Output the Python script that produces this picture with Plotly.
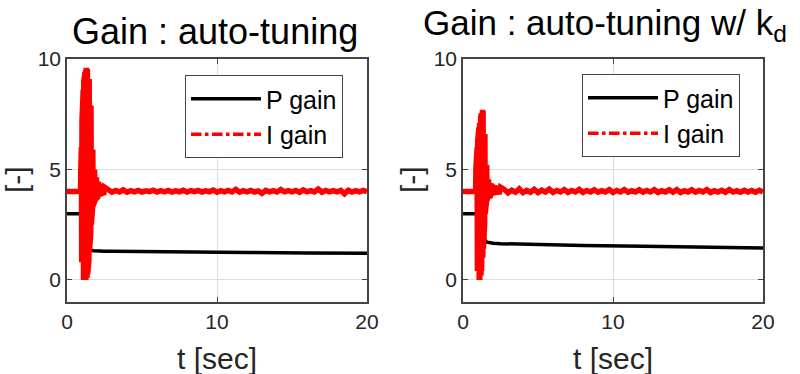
import numpy as np
import plotly.graph_objects as go

# ---------------- data ----------------
# P gain, left (auto-tuning) and right (auto-tuning w/ kd)
p_t = [0, 0.9, 1.0, 1.1, 1.2, 1.3, 1.4, 1.5, 1.6, 1.8, 2.0, 2.5, 3, 5, 8, 12, 16, 20]
p_left = [3.0, 3.0, 2.9, 2.6, 2.2, 1.8, 1.5, 1.38, 1.34, 1.32, 1.31, 1.3, 1.3, 1.28, 1.26, 1.24, 1.22, 1.21]
p_right = [3.0, 3.0, 2.9, 2.7, 2.4, 2.1, 1.85, 1.75, 1.71, 1.68, 1.66, 1.64, 1.63, 1.6, 1.56, 1.52, 1.48, 1.45]

# I gain before the transient
pre_t = [0.0, 0.5]
pre_left = [4.0, 4.0]
pre_right = [4.0, 4.0]

# I gain transient (left)
spike_t_left = [0.90, 0.92, 0.94, 0.96, 0.98, 1.00, 1.02, 1.04, 1.06, 1.08, 1.10, 1.12, 1.14, 1.16,
                1.18, 1.20, 1.22, 1.24, 1.26, 1.28, 1.30, 1.32, 1.34, 1.36, 1.38, 1.40, 1.42, 1.44,
                1.46, 1.48, 1.50, 1.52, 1.54, 1.56, 1.58, 1.60, 1.62, 1.64, 1.66, 1.68, 1.70, 1.72,
                1.74, 1.76, 1.78, 1.80, 1.82, 1.84, 1.86, 1.88, 1.90, 1.92, 1.94, 1.96, 1.98, 2.00,
                2.05, 2.10, 2.15, 2.20, 2.25, 2.30, 2.35, 2.40, 2.45, 2.50]
spike_v_left = [4.0, 5.0, 1.8, 6.0, 0.8, 7.2, 0.3, 8.0, 0.1, 8.6, 0.0, 9.0, 0.0, 9.2,
                0.0, 9.4, 0.0, 9.5, 0.0, 9.6, 0.05, 9.6, 0.1, 9.55, 0.25, 9.5, 0.5, 9.3,
                0.9, 9.1, 1.3, 8.8, 1.7, 8.5, 2.1, 7.9, 2.5, 7.2, 2.9, 6.4, 3.2, 5.9,
                3.35, 5.5, 3.45, 5.1, 3.5, 5.0, 3.58, 4.85, 3.65, 4.75, 3.68, 4.65, 3.7, 4.6,
                3.74, 4.45, 3.77, 4.35, 3.8, 4.3, 3.83, 4.25, 3.85, 4.2]

# I gain transient (right)
spike_t_right = [0.84, 0.86, 0.88, 0.90, 0.92, 0.94, 0.96, 0.98, 1.00, 1.02, 1.04, 1.06, 1.08, 1.10,
                 1.12, 1.14, 1.16, 1.18, 1.20, 1.22, 1.24, 1.26, 1.28, 1.30, 1.32, 1.34, 1.36, 1.38,
                 1.40, 1.42, 1.44, 1.46, 1.48, 1.50, 1.52, 1.54, 1.56, 1.58, 1.60, 1.62, 1.64, 1.66,
                 1.68, 1.70, 1.74, 1.78, 1.82, 1.86, 1.90, 1.95, 2.00, 2.10, 2.20, 2.30, 2.40, 2.50]
spike_v_right = [4.0, 5.0, 2.0, 5.6, 1.0, 6.0, 0.4, 6.3, 0.1, 6.6, 0.0, 6.9, 0.0, 7.1,
                 0.0, 7.3, 0.1, 7.45, 0.2, 7.55, 0.4, 7.65, 0.7, 7.7, 1.0, 7.65, 1.4, 7.4,
                 1.9, 7.0, 2.5, 6.6, 3.0, 6.1, 3.3, 5.6, 3.5, 5.2, 3.6, 4.9, 3.7, 4.7,
                 3.75, 4.55, 3.78, 4.45, 3.8, 4.38, 3.82, 4.32, 3.84, 4.28, 3.86, 4.25, 3.88, 4.2]

# I gain steady-state ripple (sampled every 0.25 s from 2.75 s)
noise_left = [4.06, 3.97, 4.05, 3.98, 4.08, 3.97, 4.04, 3.99, 4.05, 3.98, 4.03, 4.00, 4.06, 3.98,
              4.04, 3.99, 4.05, 3.98, 4.03, 3.99, 4.06, 3.98, 4.04, 4.00, 4.05, 3.98, 4.03, 3.99,
              4.07, 3.97, 4.04, 3.99, 4.05, 3.98, 4.10, 3.97, 4.04, 3.99, 4.05, 3.98, 4.03, 3.92,
              4.05, 3.99, 4.04, 3.98, 4.09, 3.99, 4.04, 3.99, 4.05, 3.96, 4.07, 3.99, 4.04, 3.98,
              4.11, 3.97, 4.05, 3.99, 4.04, 3.99, 4.05, 3.90, 4.06, 3.98, 4.04, 3.99, 4.05, 4.00]
noise_right = [4.10, 3.94, 4.06, 3.97, 4.12, 3.95, 4.05, 3.97, 4.10, 3.95, 4.06, 3.98, 4.11, 3.96,
               4.05, 3.98, 4.09, 3.96, 4.05, 3.98, 4.10, 3.96, 4.05, 3.98, 4.08, 3.97, 4.04, 3.98,
               4.09, 3.96, 4.05, 3.98, 4.09, 3.97, 4.04, 3.98, 4.08, 3.97, 4.05, 3.98, 4.09, 3.96,
               4.04, 3.98, 4.08, 3.97, 4.09, 3.96, 4.04, 3.98, 4.08, 3.97, 4.05, 3.98, 4.09, 3.96,
               4.04, 3.98, 4.06, 3.97, 4.09, 3.98, 4.04, 3.97, 4.06, 3.98, 4.05, 3.97, 4.06, 3.98]
noise_start, noise_step = 2.75, 0.25

titles = ["Gain : auto-tuning", "Gain : auto-tuning w/ k<sub>d</sub>"]
x_label = "t [sec]"
y_label = "[-]"
x_ticks = [0, 10, 20]
y_ticks = [0, 5, 10]

# ---------------- figure ----------------
FONT = "Liberation Sans, Arial, sans-serif"
TXT = "#262626"

def noise_t(vals):
    return list(noise_start + noise_step * np.arange(len(vals)))

fig = go.Figure()
panels = [
    ("x", "y", "legend", p_left, pre_t, pre_left, spike_t_left, spike_v_left, noise_left),
    ("x2", "y2", "legend2", p_right, pre_t, pre_right, spike_t_right, spike_v_right, noise_right),
]
for xa, ya, lg, pv, prt, prv, st, sv, nv in panels:
    fig.add_trace(go.Scatter(x=p_t, y=pv, mode="lines", name="P gain",
                             line=dict(color="black", width=3.5),
                             xaxis=xa, yaxis=ya, legend=lg))
    it = list(prt) + list(st) + noise_t(nv)
    iv = list(prv) + list(sv) + list(nv)
    fig.add_trace(go.Scatter(x=it, y=iv, mode="lines", name="I gain", showlegend=False,
                             line=dict(color="#ff0000", width=5.5),
                             xaxis=xa, yaxis=ya, legend=lg))
    # legend entry for I gain (dash-dot style as in the original key)
    fig.add_trace(go.Scatter(x=[None], y=[None], mode="lines", name="I gain",
                             line=dict(color="#ff0000", width=3.5, dash="dashdot"),
                             xaxis=xa, yaxis=ya, legend=lg))

W, H = 800, 374
x_doms = [(67 / W, 367 / W), (463 / W, 763 / W)]
y_dom = (1 - 302 / H, 1 - 59 / H)

axis_common = dict(showline=True, linecolor="#444444", linewidth=1.5, mirror="ticks",
                   ticks="inside", ticklen=5, tickcolor="#444444", tickwidth=1,
                   showgrid=True, gridcolor="#dedede", gridwidth=1, zeroline=False,
                   automargin=False,
                   tickfont=dict(family=FONT, size=21, color=TXT))

layout = dict(width=W, height=H, autosize=False,
              margin=dict(l=0, r=0, t=0, b=0, pad=0, autoexpand=False),
              paper_bgcolor="white", plot_bgcolor="white",
              font=dict(family=FONT, color=TXT))
for i, (xd) in enumerate(x_doms):
    sx = "" if i == 0 else "2"
    layout["xaxis" + sx] = dict(domain=list(xd), range=[0, 20], tickvals=x_ticks,
                                anchor="y" + sx, **axis_common)
    layout["yaxis" + sx] = dict(domain=list(y_dom), range=[-1, 10], tickvals=y_ticks,
                                anchor="x" + sx, **axis_common)

legend_common = dict(xanchor="left", yanchor="top", bgcolor="white", bordercolor="#444444",
                     borderwidth=1, font=dict(family=FONT, size=25, color="black"),
                     itemwidth=70, tracegroupgap=0)
layout["legend"] = dict(x=185 / W, y=1 - 75 / H, **legend_common)
layout["legend2"] = dict(x=582 / W, y=1 - 74 / H, **legend_common)

ann = []
ann.append(dict(text=titles[0], x=215 / W, y=1 - 54 / H, xref="paper", yref="paper",
                xanchor="center", yanchor="bottom", showarrow=False,
                font=dict(family=FONT, size=36, color="black")))
ann.append(dict(text=titles[1], x=605 / W, y=1 - 49 / H, xref="paper", yref="paper",
                xanchor="center", yanchor="bottom", showarrow=False,
                font=dict(family=FONT, size=35, color="black")))
for cx in (217, 613):
    ann.append(dict(text=x_label, x=cx / W, y=1 - 358 / H, xref="paper", yref="paper",
                    xanchor="center", yanchor="middle", showarrow=False,
                    font=dict(family=FONT, size=30, color=TXT)))
for cx in (17, 412):
    ann.append(dict(text=y_label, x=cx / W, y=1 - 180 / H, xref="paper", yref="paper",
                    xanchor="center", yanchor="middle", showarrow=False, textangle=-90,
                    font=dict(family=FONT, size=30, color=TXT)))
layout["annotations"] = ann

fig.update_layout(**layout)
fig.write_html("out.html", config={"displayModeBar": False, "responsive": False},
               post_script="document.body.style.margin='0px';document.body.style.overflow='hidden';")
